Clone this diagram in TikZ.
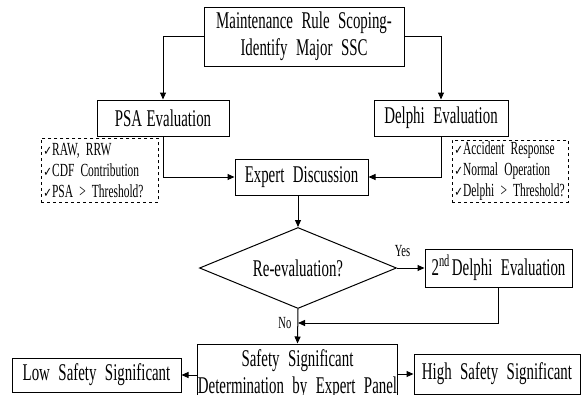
\documentclass[tikz,border=0pt]{standalone}
\usepackage{fontspec}
\setmainfont{Liberation Serif}[FakeStretch=0.62]
\newfontfamily\chkfont{DejaVu Sans}[FakeStretch=0.8]
\usetikzlibrary{arrows.meta,shapes.geometric}
\newcommand\chk{{\chkfont\fontsize{13}{13}\selectfont\char"2713}}
\newcommand\bigtxt{\fontsize{24}{27}\selectfont\spaceskip=8.5pt plus 2pt minus 1pt\relax}
\newcommand\psatxt{\fontsize{24}{27}\selectfont\spaceskip=4.5pt\relax}
\newcommand\listtxt{\fontsize{18.5}{21}\selectfont\spaceskip=3pt plus 1pt minus 1pt\relax}
\begin{document}
\begin{tikzpicture}[x=1pt,y=-1pt,
  line width=1pt,
  box/.style={draw,inner sep=0pt,align=center,font=\bigtxt},
  list/.style={draw,dashed,line width=0.8pt,inner xsep=2pt,inner ysep=0pt,align=left,anchor=north west,
    font=\listtxt},
  arr/.style={-{Triangle[length=7pt,width=6pt]}},
  lbl/.style={font=\fontsize{17}{17}\selectfont,inner sep=0pt}]
\clip (0,0) rectangle (581,394);
\useasboundingbox (0,0) rectangle (581,394);
\node[box,minimum width=200pt,minimum height=59pt] (top) at (304,36.5)
  {Maintenance Rule Scoping-\\Identify Major SSC};
\node[box,minimum width=132pt,minimum height=36pt,font=\psatxt] (psa) at (163,118) {PSA Evaluation};
\node[box,minimum width=134pt,minimum height=36pt] (delphi) at (441,118) {Delphi Evaluation};
\node[list,text width=113pt,minimum height=64pt] (psalist) at (41,138)
  {\chk RAW, RRW\\\chk CDF Contribution\\\chk PSA > Threshold?};
\node[list,text width=112pt,minimum height=62pt] (dlist) at (452,140)
  {\chk Accident Response\\\chk Normal Operation\\\chk Delphi > Threshold?};
\node[box,minimum width=133pt,minimum height=36pt] (expert) at (301.5,177) {Expert Discussion};
\node[draw,diamond,inner sep=0pt,minimum width=197pt,minimum height=81pt,shape aspect=2.4,
  font=\bigtxt] (dia) at (298,268) {Re-evaluation?};
\node[box,minimum width=147pt,minimum height=38pt] (d2) at (498.5,268) {2\textsuperscript{nd}\hspace{2pt}Delphi Evaluation};
\node[box,minimum width=199pt,minimum height=60pt] (safety) at (297.5,374)
  {Safety Significant\\Determination by Expert Panel};
\node[box,minimum width=169pt,minimum height=34pt] (low) at (96.5,375) {Low Safety Significant};
\node[box,minimum width=166pt,minimum height=40pt] (high) at (497,374) {High Safety Significant};
\coordinate (join) at (298,323);
\draw[arr] (top.west) -| (psa.north);
\draw[arr] (top.east) -| (delphi.north);
\draw[arr] (psa.south) |- (expert.west);
\draw[arr] (delphi.south) |- (expert.east);
\draw[arr] (expert.south -| dia.north) -- (dia.north);
\draw[arr] (dia.east) -- node[lbl,above,yshift=11pt,pos=0.2]{Yes} (d2.west);
\draw[arr] (d2.south) |- (join);
\draw[arr] (dia.south) -- node[lbl,left,xshift=-6pt,pos=0.4]{No} (safety.north);
\draw[arr] (safety.west |- low.east) -- (low.east);
\draw[arr] (safety.east |- high.west) -- (high.west);
\end{tikzpicture}
\end{document}
